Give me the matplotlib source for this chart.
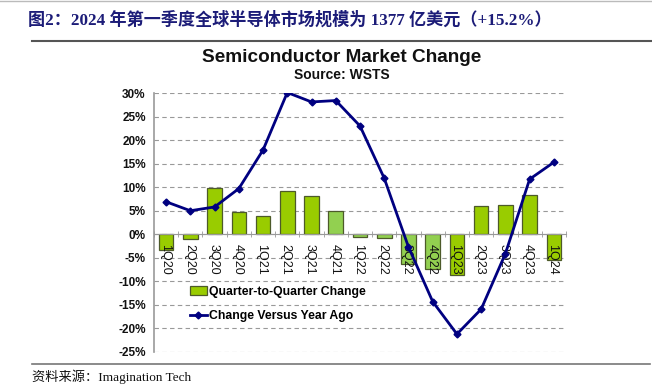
import numpy as np
import matplotlib.pyplot as plt
from matplotlib.patches import Patch
from matplotlib.lines import Line2D

quarters = ['1Q20', '2Q20', '3Q20', '4Q20', '1Q21', '2Q21', '3Q21', '4Q21',
            '1Q22', '2Q22', '3Q22', '4Q22', '1Q23', '2Q23', '3Q23', '4Q23', '1Q24']
qoq = [-3.4, -1.1, 9.8, 4.7, 3.8, 9.1, 8.1, 4.9,
       -0.5, -0.8, -6.3, -7.3, -8.6, 6.0, 6.3, 8.4, -5.5]
yoy = [6.9, 5.0, 5.8, 9.7, 17.9, 30.1, 28.1, 28.4,
       23.0, 11.9, -2.7, -14.3, -21.2, -15.9, -4.1, 11.7, 15.3]
light_bars = ['4Q21', '1Q22', '2Q22', '3Q22', '4Q22']
yticks = list(range(-25, 31, 5))

W, H = 652, 387
fig = plt.figure(figsize=(W / 100, H / 100), dpi=100)

cjk = ['Liberation Serif', 'Noto Sans CJK SC']
navy_title = '#1c1c78'

# page header and footer
fig.text(28 / W, 1 - 20 / H, '图2：2024 年第一季度全球半导体市场规模为 1377 亿美元（+15.2%）',
         family=cjk, fontsize=12.3, fontweight='bold', color=navy_title,
         ha='left', va='center')
fig.add_artist(Line2D([32 / W, 1], [1 - 41 / H, 1 - 41 / H], color='#555555', lw=1.5))
fig.add_artist(Line2D([0, 1], [1 - 1 / H, 1 - 1 / H], color='#bbbbbb', lw=1))
fig.add_artist(Line2D([32 / W, 650 / W], [1 - 364 / H, 1 - 364 / H], color='#777777', lw=1.2))
fig.text(32 / W, 1 - 377 / H, '资料来源：Imagination Tech', family=cjk, fontsize=9.5,
         color='#111111', ha='left', va='center')

# chart titles
fig.text(342 / W, 1 - 57 / H, 'Semiconductor Market Change', family='Liberation Sans',
         fontsize=13.7, fontweight='bold', color='#111111', ha='center', va='center')
fig.text(342 / W, 1 - 75 / H, 'Source: WSTS', family='Liberation Sans',
         fontsize=10, fontweight='bold', color='#111111', ha='center', va='center')

ax = fig.add_axes([154 / W, 1 - 352 / H, 412 / W, 259 / H])
ax.set_axisbelow(False)
x = np.arange(len(quarters))
colors = ['#92D050' if q in light_bars else '#99CC00' for q in quarters]
for v in yticks:
    ax.axhline(v, linestyle=(0, (4, 3)), color='#999999', lw=0.8, zorder=0.5)
ax.bar(x, qoq, width=0.6, color=colors, edgecolor='#4d5a2a', linewidth=0.9, zorder=2)
ax.plot(x, yoy, color='#000080', lw=2, marker='D', markersize=3.5, zorder=3)

ax.set_xlim(-0.5, len(quarters) - 0.5)
ax.set_ylim(-25, 30)
ax.set_yticks(yticks)
ax.set_yticklabels([f'{v}%' for v in yticks], family='Liberation Sans',
                   fontweight='bold', fontsize=8.5, color='#111111')
ax.tick_params(axis='y', length=0, pad=6)

for s in ['top', 'right']:
    ax.spines[s].set_visible(False)
ax.spines['left'].set_color('#999999')
ax.spines['left'].set_linewidth(1.2)
ax.spines['left'].set_zorder(1)
ax.spines['bottom'].set_position(('data', 0))
ax.spines['bottom'].set_color('#999999')

ax.set_xticks(x)
ax.set_xticklabels(quarters, rotation=270, rotation_mode='anchor', family='Liberation Sans',
                   fontsize=9, color='#111111', va='center_baseline', ha='left')
ax.set_xticks(np.arange(-0.5, len(quarters), 1), minor=True)
ax.tick_params(axis='x', which='major', length=0, pad=7)
ax.tick_params(axis='x', which='minor', length=5, direction='inout', color='#999999')

handles = [Patch(facecolor='#99CC00', edgecolor='#4d5a2a', lw=0.9),
           Line2D([], [], color='#000080', lw=2, marker='D', markersize=3.5)]
ax.legend(handles, ['Quarter-to-Quarter Change', 'Change Versus Year Ago'],
          loc='upper left', bbox_to_anchor=(0.075, 0.275), borderaxespad=0, frameon=False,
          prop={'family': 'Liberation Sans', 'weight': 'bold', 'size': 8.8},
          handlelength=1.4, handletextpad=0.2, labelspacing=1.05)

fig.savefig('out.png', dpi=100)
